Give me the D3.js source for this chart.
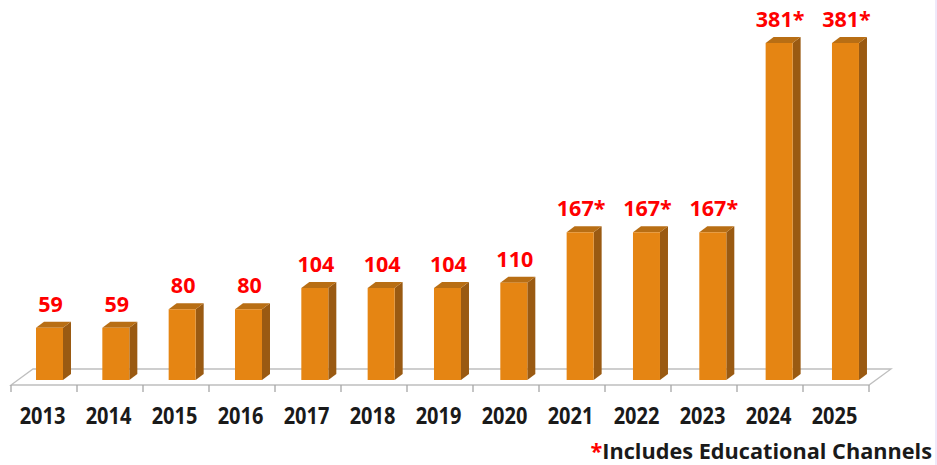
<!DOCTYPE html>
<html>
<head>
<meta charset="utf-8">
<script src="https://cdn.jsdelivr.net/npm/d3@7"></script>
<style>
  body { margin: 0; background: #fff; }
  svg { display: block; }
</style>
</head>
<body>
<div id="chart"></div>
<script>
// data
const years = ["2013", "2014", "2015", "2016", "2017", "2018", "2019", "2020", "2021", "2022", "2023", "2024", "2025"]
const channels = [59, 59, 80, 80, 104, 104, 104, 110, 167, 167, 167, 381, 381]
const labels = ["59", "59", "80", "80", "104", "104", "104", "110", "167*", "167*", "167*", "381*", "381*"]
const footnote = "Includes Educational Channels"

const W = 937, H = 465
const svg = d3.select("#chart").append("svg")
  .attr("width", W).attr("height", H)

// tick scale (floor front edge) and a slightly wider one for bars
const xScale = d3.scaleBand().domain(years).range([11, 869])
const barScale = d3.scaleBand().domain(years).range([14, 876.3])
const yScale = d3.scaleLinear().domain([0, 381]).range([380, 43])

const depth = {dx: 22, dy: -16}   // floor depth
const bd = {dx: 8, dy: -6}        // bar depth
const barW = 27
const barOff = 22
const font = "'Open Sans', sans-serif"

// floor plane
const fx0 = xScale.range()[0], fx1 = xScale.range()[1], fy = 385
svg.append("path")
  .attr("d", `M${fx0},${fy}L${fx1},${fy}L${fx1 + depth.dx},${fy + depth.dy}L${fx0 + depth.dx},${fy + depth.dy}Z`)
  .attr("fill", "#fff")
  .attr("stroke", "#bfbfbf")
  .attr("stroke-width", 1.3)

// ticks at band edges
const edges = years.map(d => xScale(d)).concat([fx1])
svg.selectAll(".tick").data(edges).enter().append("line")
  .attr("class", "tick")
  .attr("x1", d => d).attr("x2", d => d)
  .attr("y1", fy).attr("y2", fy + 7)
  .attr("stroke", "#a6a6a6").attr("stroke-width", 1.3)

// bars
const data = years.map((y, i) => ({year: y, value: channels[i], label: labels[i]}))
const bars = svg.selectAll(".bar").data(data).enter().append("g").attr("class", "bar")

bars.append("path") // side
  .attr("d", d => {
    let x = barScale(d.year) + barOff + barW, y0 = yScale(0), y1 = yScale(d.value)
    return `M${x},${y0}L${x},${y1}L${x + bd.dx},${y1 + bd.dy}L${x + bd.dx},${y0 + bd.dy}Z`
  })
  .attr("fill", "#9a5a12")

bars.append("path") // top
  .attr("d", d => {
    let x = barScale(d.year) + barOff, y1 = yScale(d.value)
    return `M${x},${y1}L${x + barW},${y1}L${x + barW + bd.dx},${y1 + bd.dy}L${x + bd.dx},${y1 + bd.dy}Z`
  })
  .attr("fill", "#b86e14")

bars.append("rect") // front
  .attr("x", d => barScale(d.year) + barOff)
  .attr("y", d => yScale(d.value))
  .attr("width", barW)
  .attr("height", d => yScale(0) - yScale(d.value))
  .attr("fill", "#e58513")

// value labels
bars.append("text")
  .attr("x", d => barScale(d.year) + barOff + barW / 2 + 1)
  .attr("y", d => yScale(d.value) - 16)
  .attr("text-anchor", "middle")
  .attr("font-family", font)
  .attr("font-weight", 700)
  .attr("font-size", 21.5)
  .attr("fill", "#ff0000")
  .text(d => d.label)

// year labels (slightly taller than wide in the source)
svg.selectAll(".year").data(years).enter().append("text")
  .attr("class", "year")
  .attr("transform", d => `translate(${xScale(d) + xScale.bandwidth() / 2 - 1.5},424) scale(1,1.12)`)
  .attr("text-anchor", "middle")
  .attr("font-family", font)
  .attr("font-weight", 700)
  .attr("font-size", 20)
  .attr("fill", "#1a1a1a")
  .text(d => d)

// footnote
const note = svg.append("text")
  .attr("x", 932).attr("y", 459)
  .attr("text-anchor", "end")
  .attr("font-family", font)
  .attr("font-weight", 700)
  .attr("font-size", 21.7)
  .attr("fill", "#1a1a1a")
note.append("tspan").attr("fill", "#ff0000").text("*")
note.append("tspan").text(footnote)

// faint edge on the right
svg.append("rect").attr("x", 935).attr("y", 0).attr("width", 2).attr("height", H).attr("fill", "#efe9fa")
</script>
</body>
</html>
